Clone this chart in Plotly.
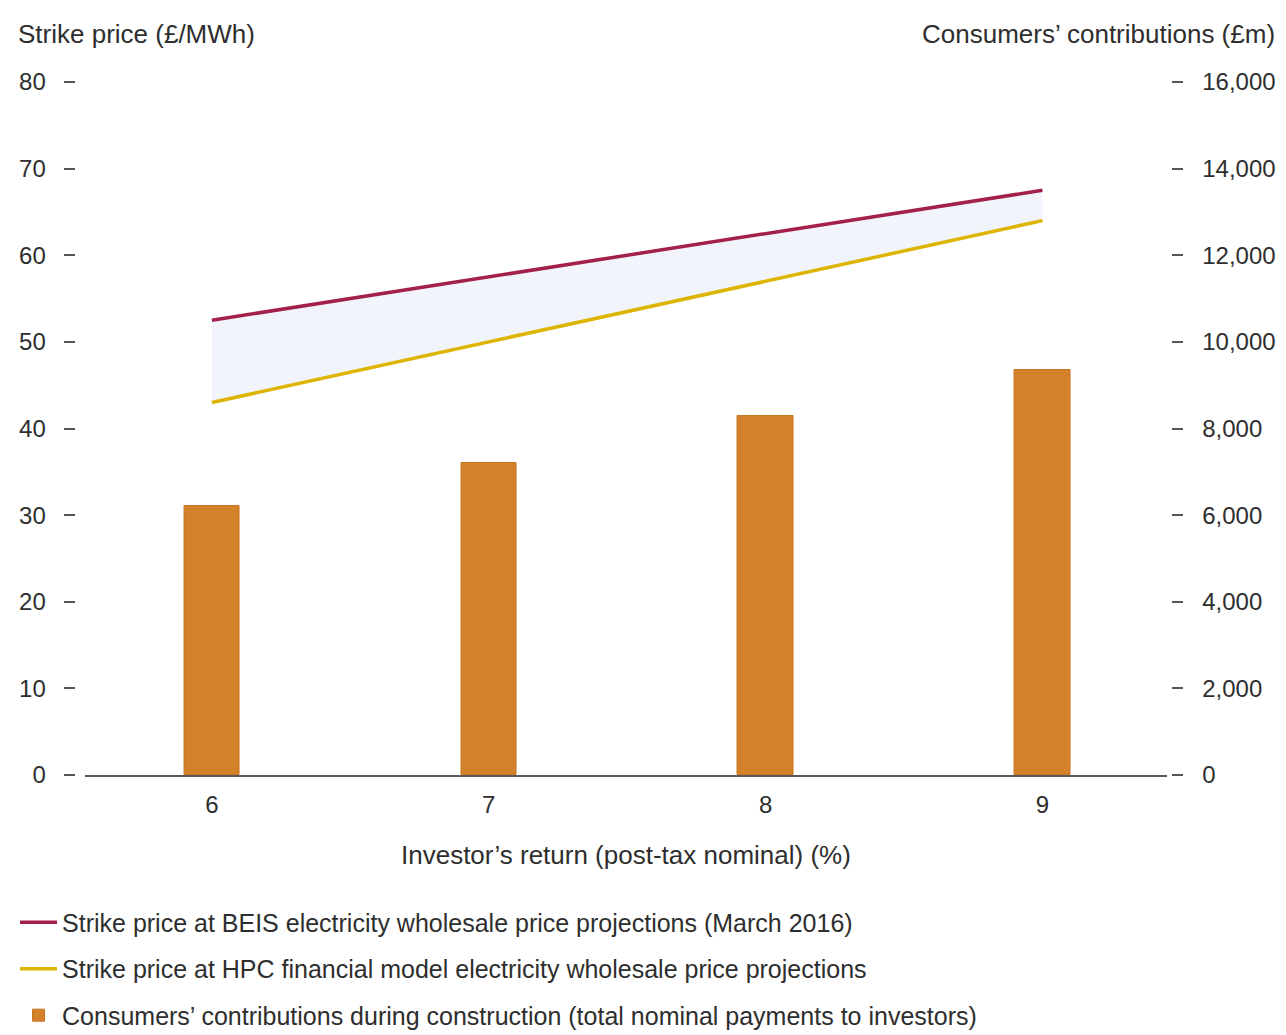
import plotly.graph_objects as go

# Investor's return (post-tax nominal), %
returns = [6, 7, 8, 9]
return_labels = ["6", "7", "8", "9"]

# Strike price (£/MWh)
beis_strike = [52.5, 57.5, 62.5, 67.5]
hpc_strike = [43.0, 50.0, 57.0, 64.0]

# Consumers' contributions during construction (£m)
contributions = [6200, 7200, 8300, 9350]

left_ticks = [0, 10, 20, 30, 40, 50, 60, 70, 80]
right_ticks = [0, 2000, 4000, 6000, 8000, 10000, 12000, 14000, 16000]

FONT = "Liberation Sans, Arial, Helvetica, sans-serif"
TXT = "#2e2e2e"
TITLE_FS = 26
TICK_FS = 24
LEGEND_FS = 25

fig = go.Figure()

# contribution bars (right axis)
fig.add_trace(go.Bar(
    x=returns, y=contributions, yaxis="y2", width=0.2,
    marker=dict(color="#D4812B", line=dict(color="#C7761F", width=1)),
    name="Consumers’ contributions during construction (total nominal payments to investors)",
    legendgroup="c", legendrank=3,
))

# shaded band between the two strike-price lines
fig.add_trace(go.Scatter(
    x=returns, y=hpc_strike, mode="lines", line=dict(width=0, color="rgba(0,0,0,0)"),
    showlegend=False, hoverinfo="skip",
))
fig.add_trace(go.Scatter(
    x=returns, y=beis_strike, mode="lines", line=dict(width=0, color="rgba(0,0,0,0)"),
    fill="tonexty", fillcolor="rgba(222,228,244,0.4)",
    showlegend=False, hoverinfo="skip",
))

fig.add_trace(go.Scatter(
    x=returns, y=beis_strike, mode="lines",
    line=dict(color="#A3204A", width=3.5),
    name="Strike price at BEIS electricity wholesale price projections (March 2016)",
    legendgroup="a", legendrank=1,
))
fig.add_trace(go.Scatter(
    x=returns, y=hpc_strike, mode="lines",
    line=dict(color="#DDB400", width=3.5),
    name="Strike price at HPC financial model electricity wholesale price projections",
    legendgroup="b", legendrank=2,
))

fig.update_layout(
    width=1286, height=1035,
    margin=dict(l=10, r=10, t=82, b=260),
    paper_bgcolor="white", plot_bgcolor="white",
    font=dict(family=FONT, size=TICK_FS, color=TXT),
    bargap=0,
    xaxis=dict(
        domain=[0.0592, 0.9190],
        range=[5.54, 9.45],
        tickvals=returns, ticktext=return_labels,
        showgrid=False, zeroline=False,
        showline=True, linecolor="#5a5a5a", linewidth=2,
        ticks="", ticklabelstandoff=7,
    ),
    yaxis=dict(
        range=[0, 80], tickvals=left_ticks,
        anchor="free", position=0.0513, side="left",
        showgrid=False, zeroline=False, showline=False,
        ticks="outside", ticklen=11, tickwidth=1.5, tickcolor="#555555",
        ticklabelstandoff=13,
    ),
    yaxis2=dict(
        range=[0, 16000], tickvals=right_ticks, tickformat=",d",
        overlaying="y", anchor="free", position=0.9225, side="right",
        showgrid=False, zeroline=False, showline=False,
        ticks="outside", ticklen=11, tickwidth=1.5, tickcolor="#555555",
        ticklabelstandoff=14,
    ),
    legend=dict(
        xref="paper", yref="container",
        x=0.004, xanchor="left", y=0.131, yanchor="top",
        traceorder="grouped", tracegroupgap=11,
        font=dict(family=FONT, size=LEGEND_FS, color=TXT),
        itemwidth=37, bgcolor="rgba(0,0,0,0)",
    ),
    showlegend=True,
    annotations=[
        dict(text="Strike price (£/MWh)", xref="paper", yref="paper",
             x=0.005, y=1.045, xanchor="left", yanchor="bottom", showarrow=False,
             font=dict(size=TITLE_FS, color=TXT)),
        dict(text="Consumers’ contributions (£m)", xref="paper", yref="paper",
             x=1.006, y=1.045, xanchor="right", yanchor="bottom", showarrow=False,
             font=dict(size=TITLE_FS, color=TXT)),
        dict(text="Investor’s return (post-tax nominal) (%)", xref="x domain", yref="paper",
             x=0.5, y=-0.1154, xanchor="center", yanchor="middle", showarrow=False,
             font=dict(size=TITLE_FS, color=TXT)),
    ],
)

fig.write_html("out.html")
